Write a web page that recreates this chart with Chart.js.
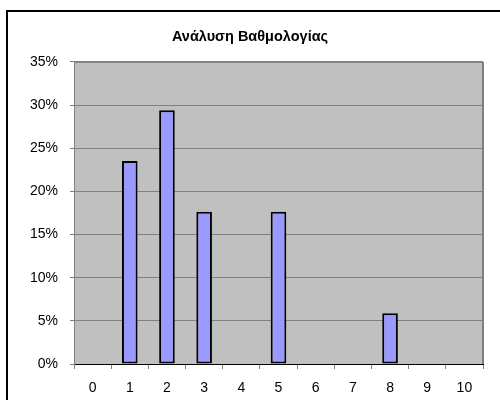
<!DOCTYPE html>
<html>
<head>
<meta charset="utf-8">
<script src="https://cdn.jsdelivr.net/npm/chart.js@4"></script>
<style>
  body { margin: 0; background: #fff; }
  #wrap { width: 500px; height: 400px; }
</style>
</head>
<body>
<div id="wrap"><canvas id="myChart" width="500" height="400"></canvas></div>
<script>
// βαθμοί 0..10 και ποσοστό μαθητών
const grades = ['0', '1', '2', '3', '4', '5', '6', '7', '8', '9', '10']
const shares = [0, 23.53, 29.41, 17.65, 0, 17.65, 0, 0, 5.88, 0, 0]
const titleText = 'Ανάλυση Βαθμολογίας'
const yTicks = { min: 0, max: 35, step: 5 }

const ctx = document.getElementById('myChart')
const fontFam = 'Liberation Sans, Arial, sans-serif'

// πλαίσιο γραφήματος + γκρι φόντο περιοχής σχεδίασης
const frame = {
    id: 'frame',
    beforeDraw(chart) {
        const c = chart.ctx
        const a = chart.chartArea
        c.save()
        c.fillStyle = '#ffffff'
        c.fillRect(0, 0, chart.width, chart.height)
        c.strokeStyle = '#000000'
        c.lineWidth = 2
        c.strokeRect(7, 11, chart.width + 50, chart.height + 50)
        c.fillStyle = '#c0c0c0'
        c.fillRect(a.left, a.top, a.right - a.left, a.bottom - a.top)
        c.restore()
    },
    afterDatasetsDraw(chart) {
        const c = chart.ctx
        const a = chart.chartArea
        c.save()
        c.strokeStyle = '#808080'
        c.lineWidth = 1
        c.beginPath()
        c.moveTo(a.left, a.top + 0.5)
        c.lineTo(a.right, a.top + 0.5)
        c.stroke()
        c.lineWidth = 2
        c.beginPath()
        c.moveTo(a.right, a.top)
        c.lineTo(a.right, a.bottom)
        c.stroke()
        c.restore()
    }
}

const data = {
    labels: grades,
    datasets: [{
        data: shares,
        backgroundColor: '#9999ff',
        borderColor: '#000000',
        borderWidth: 2,
        borderSkipped: false,
        barPercentage: 0.42,
        categoryPercentage: 1
    }]
}

const config = {
    type: 'bar',
    data: data,
    options: {
        responsive: false,
        animation: false,
        layout: { padding: 0 },
        plugins: {
            legend: { display: false },
            tooltip: { enabled: false },
            title: {
                display: true,
                text: titleText,
                color: '#000',
                font: { family: fontFam, size: 14.5, weight: 'bold' },
                padding: { top: 28, bottom: 16.5 }
            }
        },
        scales: {
            x: {
                offset: true,
                grid: {
                    offset: true,
                    drawOnChartArea: false,
                    drawTicks: true,
                    tickLength: 5,
                    color: '#808080'
                },
                border: { color: '#000000', width: 1 },
                ticks: {
                    color: '#000',
                    padding: 11,
                    maxRotation: 0,
                    font: { family: fontFam, size: 14 }
                },
                afterFit(scale) { scale.height = 36 }
            },
            y: {
                min: yTicks.min,
                max: yTicks.max,
                grid: { color: '#808080', tickLength: 4 },
                border: { color: '#808080', width: 1 },
                ticks: {
                    stepSize: yTicks.step,
                    color: '#000',
                    padding: 12,
                    font: { family: fontFam, size: 14 },
                    callback: v => v + '%'
                },
                afterFit(scale) { scale.width = 74 }
            },
            yRight: {
                position: 'right',
                display: true,
                grid: { display: false },
                border: { display: false },
                ticks: { display: false },
                afterFit(scale) { scale.width = 17 }
            }
        }
    },
    plugins: [frame]
}

const myChart = new Chart(ctx, config)
</script>
</body>
</html>
